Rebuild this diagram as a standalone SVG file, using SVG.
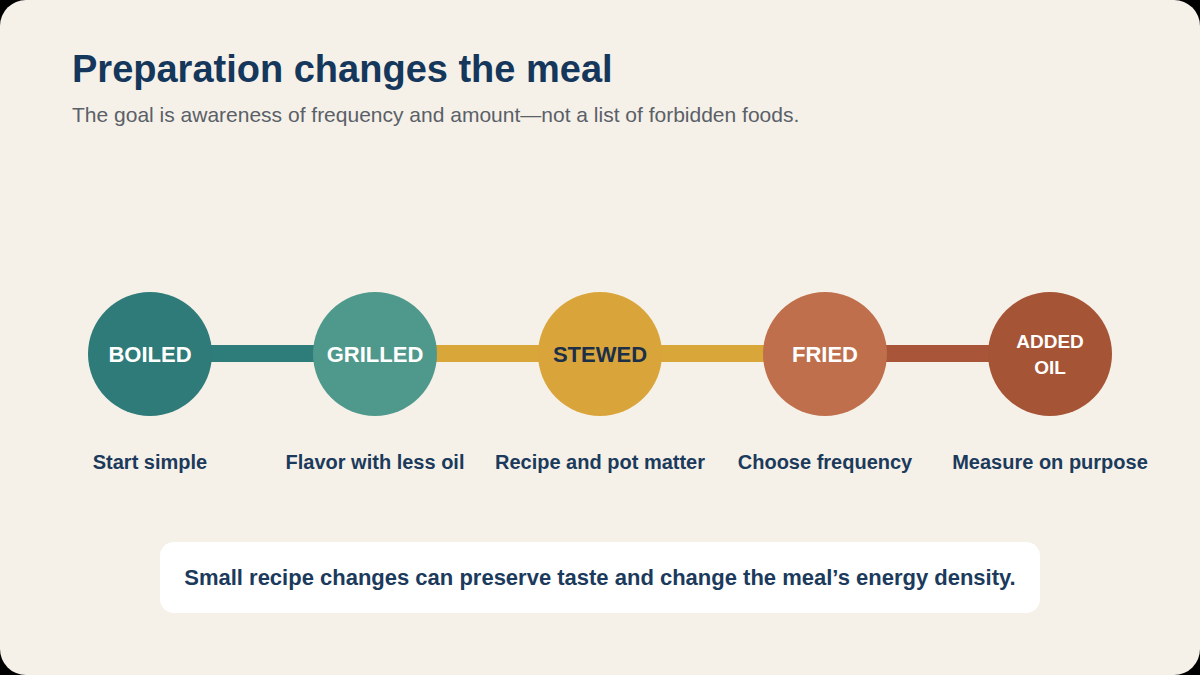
<svg xmlns="http://www.w3.org/2000/svg" width="1200" height="675" viewBox="0 0 1200 675">
<style>
.t{font-family:"Liberation Sans",Arial,sans-serif}
.title{font-size:38px;font-weight:bold;fill:#15375B}
.sub{font-size:21px;fill:#5A6068}
.nl{font-size:22px;font-weight:bold;fill:#FFFFFF;text-anchor:middle}
.cap{font-size:20px;font-weight:bold;fill:#1B3A5C;text-anchor:middle}
.note{font-size:22px;font-weight:bold;fill:#1B3A5C;text-anchor:middle}
</style>
<rect width="1200" height="675" fill="#000"/>
<rect width="1200" height="675" rx="26" fill="#F6F1E8"/>
<text class="t title" x="72" y="82">Preparation changes the meal</text>
<text class="t sub" x="72" y="122">The goal is awareness of frequency and amount—not a list of forbidden foods.</text>
<g id="connectors">
<rect x="150" y="345" width="225" height="17" fill="#2E7D7A"/>
<rect x="375" y="345" width="450" height="17" fill="#D9A63A"/>
<rect x="825" y="345" width="225" height="17" fill="#A8553A"/>
</g>
<g id="boiled"><circle cx="150" cy="354" r="62" fill="#2E7B79"/><text class="t nl" x="150" y="362">BOILED</text><text class="t cap" x="150" y="469">Start simple</text></g>
<g id="grilled"><circle cx="375" cy="354" r="62" fill="#4F998C"/><text class="t nl" x="375" y="362">GRILLED</text><text class="t cap" x="375" y="469">Flavor with less oil</text></g>
<g id="stewed"><circle cx="600" cy="354" r="62" fill="#D9A53A"/><text class="t nl" x="600" y="362" style="fill:#1B2F48">STEWED</text><text class="t cap" x="600" y="469">Recipe and pot matter</text></g>
<g id="fried"><circle cx="825" cy="354" r="62" fill="#BF6F4C"/><text class="t nl" x="825" y="362">FRIED</text><text class="t cap" x="825" y="469">Choose frequency</text></g>
<g id="added-oil"><circle cx="1050" cy="354" r="62" fill="#A65436"/><text class="t nl" x="1050" y="348" style="font-size:19px">ADDED</text><text class="t nl" x="1050" y="374" style="font-size:19px">OIL</text><text class="t cap" x="1050" y="469">Measure on purpose</text></g>
<g id="note"><rect x="160" y="542" width="880" height="71" rx="14" fill="#FFFFFF"/><text class="t note" x="600" y="585">Small recipe changes can preserve taste and change the meal’s energy density.</text></g>
</svg>
